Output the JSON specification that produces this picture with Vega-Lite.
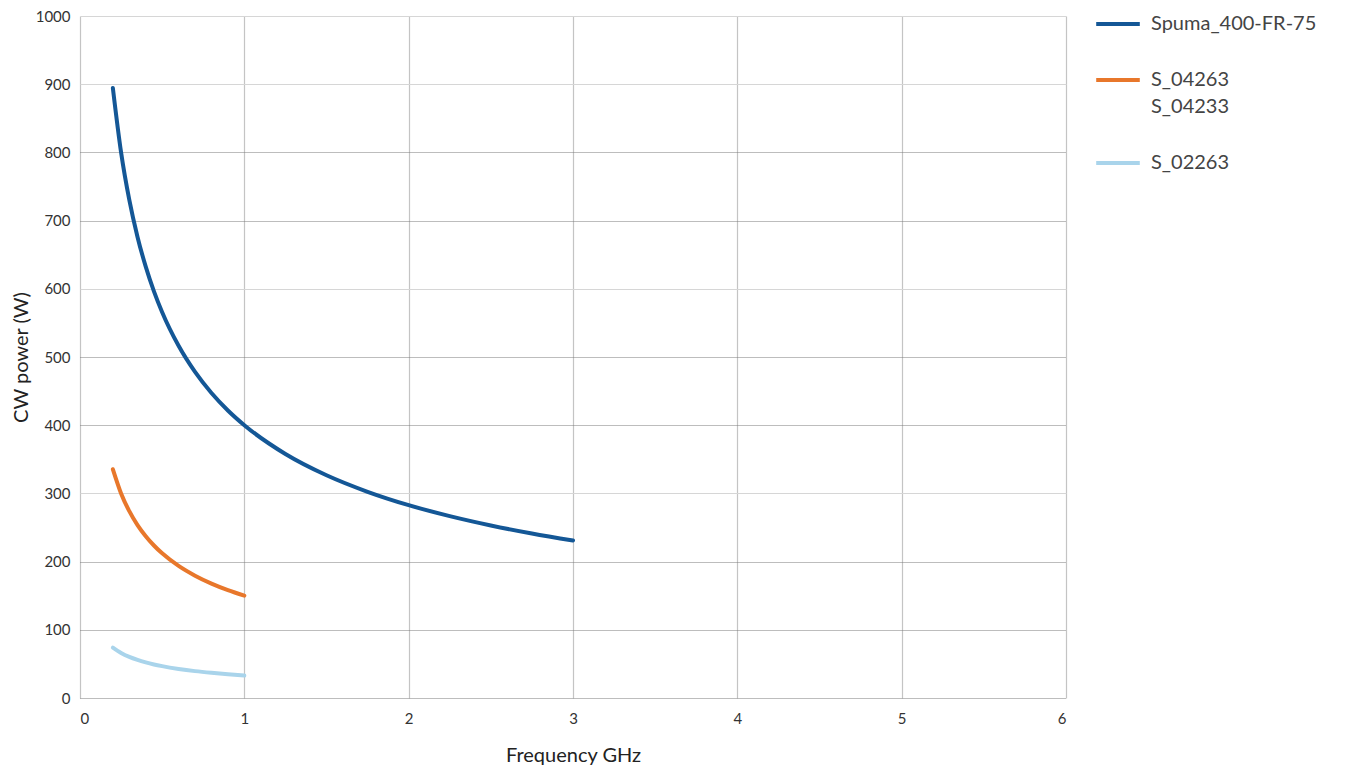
{
  "$schema": "https://vega.github.io/schema/vega-lite/v6.json",
  "autosize": {"type": "none"},
  "padding": {"left": 80, "top": 16, "right": 280, "bottom": 71},
  "width": 986,
  "height": 682,
  "background": "white",
  "config": {
    "view": {"stroke": null},
    "font": "Lato",
    "style": {"guide-label": {"lineHeight": 27}},
    "axis": {"labelFont": "Lato", "titleFont": "Lato", "labelColor": "#333333", "titleColor": "#222222", "titleFontWeight": "normal"}
  },
  "data": {
    "values": [
      {"f": 0.2, "p": 894.4, "s": "Spuma_400-FR-75"},
      {"f": 0.25, "p": 800, "s": "Spuma_400-FR-75"},
      {"f": 0.3, "p": 730.3, "s": "Spuma_400-FR-75"},
      {"f": 0.35, "p": 676.1, "s": "Spuma_400-FR-75"},
      {"f": 0.4, "p": 632.5, "s": "Spuma_400-FR-75"},
      {"f": 0.45, "p": 596.3, "s": "Spuma_400-FR-75"},
      {"f": 0.5, "p": 565.7, "s": "Spuma_400-FR-75"},
      {"f": 0.6, "p": 516.4, "s": "Spuma_400-FR-75"},
      {"f": 0.7, "p": 478.1, "s": "Spuma_400-FR-75"},
      {"f": 0.8, "p": 447.2, "s": "Spuma_400-FR-75"},
      {"f": 0.9, "p": 421.6, "s": "Spuma_400-FR-75"},
      {"f": 1.0, "p": 400, "s": "Spuma_400-FR-75"},
      {"f": 1.25, "p": 357.8, "s": "Spuma_400-FR-75"},
      {"f": 1.5, "p": 326.6, "s": "Spuma_400-FR-75"},
      {"f": 1.75, "p": 302.4, "s": "Spuma_400-FR-75"},
      {"f": 2.0, "p": 282.8, "s": "Spuma_400-FR-75"},
      {"f": 2.25, "p": 266.7, "s": "Spuma_400-FR-75"},
      {"f": 2.5, "p": 253.0, "s": "Spuma_400-FR-75"},
      {"f": 2.75, "p": 241.2, "s": "Spuma_400-FR-75"},
      {"f": 3.0, "p": 230.9, "s": "Spuma_400-FR-75"},
      {"f": 0.2, "p": 335.4, "s": "S_04263 S_04233"},
      {"f": 0.25, "p": 300, "s": "S_04263 S_04233"},
      {"f": 0.3, "p": 273.9, "s": "S_04263 S_04233"},
      {"f": 0.35, "p": 253.5, "s": "S_04263 S_04233"},
      {"f": 0.4, "p": 237.2, "s": "S_04263 S_04233"},
      {"f": 0.45, "p": 223.6, "s": "S_04263 S_04233"},
      {"f": 0.5, "p": 212.1, "s": "S_04263 S_04233"},
      {"f": 0.6, "p": 193.6, "s": "S_04263 S_04233"},
      {"f": 0.7, "p": 179.3, "s": "S_04263 S_04233"},
      {"f": 0.8, "p": 167.7, "s": "S_04263 S_04233"},
      {"f": 0.9, "p": 158.1, "s": "S_04263 S_04233"},
      {"f": 1.0, "p": 150, "s": "S_04263 S_04233"},
      {"f": 0.2, "p": 73.8, "s": "S_02263"},
      {"f": 0.25, "p": 66, "s": "S_02263"},
      {"f": 0.3, "p": 60.2, "s": "S_02263"},
      {"f": 0.35, "p": 55.8, "s": "S_02263"},
      {"f": 0.4, "p": 52.2, "s": "S_02263"},
      {"f": 0.45, "p": 49.2, "s": "S_02263"},
      {"f": 0.5, "p": 46.7, "s": "S_02263"},
      {"f": 0.6, "p": 42.6, "s": "S_02263"},
      {"f": 0.7, "p": 39.4, "s": "S_02263"},
      {"f": 0.8, "p": 36.9, "s": "S_02263"},
      {"f": 0.9, "p": 34.8, "s": "S_02263"},
      {"f": 1.0, "p": 33, "s": "S_02263"}
    ]
  },
  "mark": {"type": "line", "strokeWidth": 4, "interpolate": "monotone", "strokeCap": "round"},
  "encoding": {
    "x": {
      "field": "f", "type": "quantitative",
      "scale": {"domain": [0, 6], "nice": false},
      "axis": {
        "title": "Frequency GHz", "values": [0, 1, 2, 3, 4, 5, 6], "format": "d",
        "domain": false, "ticks": false, "labelPadding": 13, "labelFontSize": 15,
        "titleFontSize": 20, "titlePadding": 19,
        "gridColor": "#c4c4c4", "gridWidth": 1.2
      }
    },
    "y": {
      "field": "p", "type": "quantitative",
      "scale": {"domain": [0, 1000], "nice": false},
      "axis": {
        "title": "CW power (W)", "values": [0, 100, 200, 300, 400, 500, 600, 700, 800, 900, 1000], "format": "d",
        "domain": false, "ticks": false, "labelPadding": 10, "labelFontSize": 15,
        "titleFontSize": 20, "titlePadding": 4,
        "gridColor": {"condition": {"test": "datum.value == 300 || datum.value == 600 || datum.value == 900 || datum.value == 1000", "value": "#d6d6d6"}, "value": "#7a7a7a"},
        "gridDash": {"condition": {"test": "datum.value == 300 || datum.value == 600 || datum.value == 900 || datum.value == 1000", "value": []}, "value": [1, 1]},
        "gridWidth": 1
      }
    },
    "color": {
      "field": "s", "type": "nominal",
      "scale": {"domain": ["Spuma_400-FR-75", "S_04263 S_04233", "S_02263"], "range": ["#145796", "#e8772b", "#a9d4eb"]},
      "legend": {
        "title": null, "orient": "none", "legendX": 1014, "legendY": -16, "padding": 0,
        "symbolType": "stroke", "symbolSize": 1900, "symbolStrokeWidth": 4,
        "labelFont": "Lato", "labelFontSize": 20, "labelColor": "#444444", "labelOffset": 9,
        "labelExpr": "datum.label == 'S_04263 S_04233' ? ['S_04263', 'S_04233'] : datum.label",
        "rowPadding": 22, "labelLimit": 300
      }
    }
  }
}
